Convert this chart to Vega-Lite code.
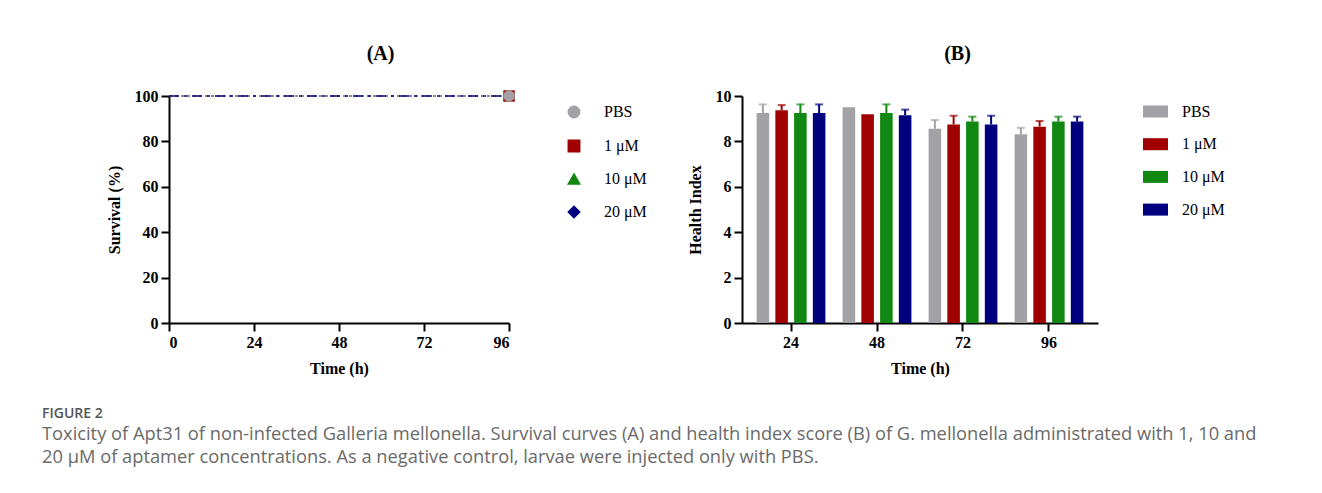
{
  "$schema": "https://vega.github.io/schema/vega-lite/v6.json",
  "padding": {"left": 42, "top": 44, "right": 5, "bottom": 5},
  "background": "white",
  "config": {
    "font": "Liberation Serif",
    "view": {"stroke": null},
    "axis": {
      "domainColor": "black", "domainWidth": 2, "tickColor": "black", "tickWidth": 2, "tickSize": 8,
      "labelFont": "Liberation Serif", "labelFontSize": 16, "labelFontWeight": "bold", "labelColor": "black",
      "titleFont": "Liberation Serif", "titleFontSize": 16, "titleFontWeight": "bold", "titleColor": "black",
      "grid": false, "labelPadding": 3
    },
    "legend": {
      "labelFont": "Liberation Serif", "labelFontSize": 16, "labelColor": "black",
      "rowPadding": 16, "padding": 8, "symbolOpacity": 1
    },
    "title": {"font": "Liberation Serif", "fontSize": 20, "fontWeight": "bold", "color": "black"}
  },
  "title": {
    "text": "FIGURE 2",
    "subtitle": [
      "Toxicity of Apt31 of non-infected Galleria mellonella. Survival curves (A) and health index score (B) of G. mellonella administrated with 1, 10 and",
      "20 µM of aptamer concentrations. As a negative control, larvae were injected only with PBS."
    ],
    "orient": "bottom", "anchor": "start", "frame": "bounds",
    "font": "Open Sans", "fontSize": 14, "fontWeight": 600, "color": "#555555",
    "subtitleFont": "Open Sans", "subtitleFontSize": 18.3, "subtitleColor": "#6a6a6a",
    "subtitleLineHeight": 23, "subtitlePadding": 5, "offset": 31
  },
  "datasets": {
    "survival": [
      {"group": "20 μM", "time": 0, "survival": 100},
      {"group": "20 μM", "time": 96, "survival": 100},
      {"group": "10 μM", "time": 0, "survival": 100},
      {"group": "10 μM", "time": 96, "survival": 100},
      {"group": "1 μM", "time": 0, "survival": 100},
      {"group": "1 μM", "time": 96, "survival": 100},
      {"group": "PBS", "time": 0, "survival": 100},
      {"group": "PBS", "time": 96, "survival": 100}
    ],
    "health": [
      {"time": "24", "group": "PBS", "health": 9.25, "upper": 9.63},
      {"time": "24", "group": "1 μM", "health": 9.37, "upper": 9.6},
      {"time": "24", "group": "10 μM", "health": 9.25, "upper": 9.63},
      {"time": "24", "group": "20 μM", "health": 9.25, "upper": 9.63},
      {"time": "48", "group": "PBS", "health": 9.5, "upper": null},
      {"time": "48", "group": "1 μM", "health": 9.2, "upper": null},
      {"time": "48", "group": "10 μM", "health": 9.25, "upper": 9.63},
      {"time": "48", "group": "20 μM", "health": 9.15, "upper": 9.4},
      {"time": "72", "group": "PBS", "health": 8.56, "upper": 8.94},
      {"time": "72", "group": "1 μM", "health": 8.75, "upper": 9.13},
      {"time": "72", "group": "10 μM", "health": 8.88, "upper": 9.09},
      {"time": "72", "group": "20 μM", "health": 8.75, "upper": 9.13},
      {"time": "96", "group": "PBS", "health": 8.31, "upper": 8.6},
      {"time": "96", "group": "1 μM", "health": 8.65, "upper": 8.9},
      {"time": "96", "group": "10 μM", "health": 8.88, "upper": 9.09},
      {"time": "96", "group": "20 μM", "health": 8.88, "upper": 9.09}
    ]
  },
  "resolve": {"scale": {"color": "independent", "shape": "independent"}, "legend": {"color": "independent", "shape": "independent"}},
  "spacing": 32,
  "hconcat": [
    {
      "width": 32, "height": 227,
      "data": {"values": [{}]},
      "mark": {"type": "point", "opacity": 0},
      "encoding": {}
    },
    {
      "width": 340, "height": 227,
      "title": {"text": "(A)", "frame": "bounds", "anchor": "middle", "offset": 24},
      "data": {"name": "survival"},
      "encoding": {
        "x": {"field": "time", "type": "quantitative", "scale": {"domain": [0, 96], "nice": false},
              "axis": {"values": [0, 24, 48, 72, 96], "title": "Time (h)", "titlePadding": 10}},
        "y": {"field": "survival", "type": "quantitative", "scale": {"domain": [0, 100]},
              "axis": {"values": [0, 20, 40, 60, 80, 100], "title": "Survival (%)", "titlePadding": 12}},
        "color": {"field": "group", "type": "nominal",
                  "scale": {"domain": ["PBS", "1 μM", "10 μM", "20 μM"], "range": ["#A2A2A6", "#A00000", "#118811", "#00007F"]},
                  "legend": {"title": null, "offset": 46, "labelOffset": 22, "symbolSize": 130}}
      },
      "layer": [
        {
          "transform": [{"filter": "datum.group != '20 μM'"}],
          "mark": {"type": "line", "strokeDash": [3, 3], "strokeWidth": 1.5},
          "encoding": {"detail": {"field": "group"}}
        },
        {
          "transform": [{"filter": "datum.group == '20 μM'"}],
          "mark": {"type": "line", "strokeDash": [10, 5, 3, 5], "strokeWidth": 1.5},
          "encoding": {"detail": {"field": "group"}}
        },
        {
          "transform": [{"filter": "datum.time == 96"}],
          "mark": {"type": "point", "filled": true, "size": 130, "opacity": 1},
          "encoding": {
            "shape": {"field": "group", "type": "nominal",
                      "scale": {"domain": ["PBS", "1 μM", "10 μM", "20 μM"], "range": ["circle", "square", "triangle-up", "diamond"]},
                      "legend": {"title": null}}
          }
        }
      ]
    },
    {
      "width": 356, "height": 227,
      "title": {"text": "(B)", "frame": "bounds", "anchor": "middle", "offset": 24},
      "data": {"name": "health"},
      "encoding": {
        "x": {"field": "time", "type": "nominal",
              "scale": {"paddingInner": 0.2, "paddingOuter": 0.17},
              "axis": {"labelAngle": 0, "title": "Time (h)", "titlePadding": 10}},
        "xOffset": {"field": "group", "type": "nominal",
                    "scale": {"domain": ["PBS", "1 μM", "10 μM", "20 μM"], "paddingInner": 0.33, "paddingOuter": 0}},
        "color": {"field": "group", "type": "nominal",
                  "scale": {"domain": ["PBS", "1 μM", "10 μM", "20 μM"], "range": ["#A2A2A6", "#A00000", "#118811", "#00007F"]},
                  "legend": {"title": null, "offset": 42, "padding": 3, "rowPadding": 11.7, "labelOffset": 14, "symbolSize": 625,
                             "symbolType": "M-1,-0.48H1V0.48H-1Z", "symbolStrokeWidth": 0, "symbolOpacity": 1}}
      },
      "layer": [
        {
          "mark": {"type": "bar"},
          "encoding": {
            "y": {"field": "health", "type": "quantitative", "scale": {"domain": [0, 10]},
                  "axis": {"values": [0, 2, 4, 6, 8, 10], "title": "Health Index", "titlePadding": 12}}
          }
        },
        {
          "transform": [{"filter": "datum.upper != null"}],
          "mark": {"type": "rule", "strokeWidth": 2},
          "encoding": {
            "y": {"field": "health", "type": "quantitative"},
            "y2": {"field": "upper"}
          }
        },
        {
          "transform": [{"filter": "datum.upper != null"}],
          "mark": {"type": "tick", "thickness": 2, "size": 8, "orient": "horizontal"},
          "encoding": {
            "y": {"field": "upper", "type": "quantitative"}
          }
        }
      ]
    }
  ]
}
